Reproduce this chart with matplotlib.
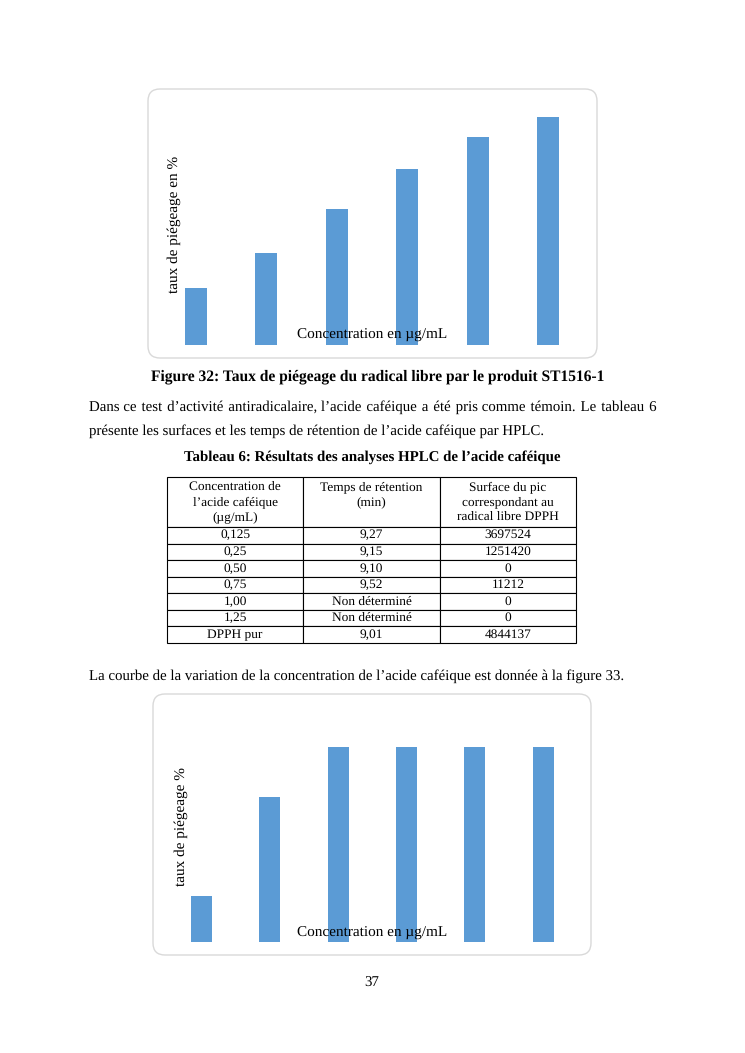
import matplotlib
matplotlib.use("Agg")
import matplotlib.pyplot as plt
from matplotlib.patches import FancyBboxPatch

plt.rcParams['font.family'] = ['Liberation Serif', 'DejaVu Serif']
plt.rcParams['text.hinting'] = 'no_hinting'

W, H = 745, 1053
BLUE = '#5B9BD5'

# Figure 32 : taux de piégeage, produit ST1516-1 (%)
conc_labels = ['0,125', '0,25', '0,50', '0,75', '1,00', '1,25']
taux_st1516 = [20.0, 32.3, 47.7, 61.8, 73.0, 80.0]

# Figure 33 : taux de piégeage, acide caféique (%)
taux_cafeique = [23.67, 74.17, 100.0, 99.77, 100.0, 100.0]

# Tableau 6
table_header = ["Concentration de\nl\u2019acide caféique\n(\u00b5g/mL)",
                "Temps de rétention\n(min)\n",
                "Surface du pic\ncorrespondant au\nradical libre DPPH"]
table_conc = ['0,125', '0,25', '0,50', '0,75', '1,00', '1,25', 'DPPH pur']
table_temps = ['9,27', '9,15', '9,10', '9,52', 'Non déterminé', 'Non déterminé', '9,01']
table_surface = ['3697524', '1251420', '0', '11212', '0', '0', '4844137']

fig = plt.figure(figsize=(W / 100, H / 100), dpi=100)
page = fig.add_axes([0, 0, 1, 1])
page.set_xlim(0, W)
page.set_ylim(H, 0)
page.axis('off')


def px_axes(left, top, right, bottom):
    return fig.add_axes([left / W, 1 - bottom / H, (right - left) / W, (bottom - top) / H])


def chart_box(x0, y0, x1, y1):
    page.add_patch(FancyBboxPatch((x0, y0), x1 - x0, y1 - y0,
                                  boxstyle='round,pad=0,rounding_size=12',
                                  fc='white', ec='#d9d9d9', lw=1.0))


def bar_chart(values, left, right, bottom, ymax, px_per_unit, ylabel, ylab_pos, xlab_y):
    top = bottom - ymax * px_per_unit
    ax = px_axes(left, top, right, bottom)
    ax.patch.set_visible(False)
    ax.bar(range(len(values)), values, width=0.31, color=BLUE)
    ax.set_xlim(-0.5, len(values) - 0.5)
    ax.set_ylim(0, ymax)
    ax.set_xticks([])
    ax.set_yticks([])
    for s in ax.spines.values():
        s.set_visible(False)
    ax.set_xlabel('Concentration en \u00b5g/mL', fontsize=11)
    ax.xaxis.label.set_va('center')
    ax.xaxis.set_label_coords(0.5, (bottom - xlab_y) / (bottom - top))
    ax.set_ylabel(ylabel, fontsize=11)
    ax.yaxis.label.set_va('center')
    ax.yaxis.set_label_coords((ylab_pos[0] - left) / (right - left),
                              (bottom - ylab_pos[1]) / (bottom - top))
    return ax


def justified_line(y, text, x0, x1, **kw):
    # one Text, widened by spreading hair spaces over the word gaps
    renderer = fig.canvas.get_renderer()
    t = page.text(x0, y, text, ha='left', va='baseline', **kw)
    width = t.get_window_extent(renderer).width
    t.set_text('a' + '\u200a' * 10 + 'a')
    sp = t.get_window_extent(renderer).width
    t.set_text('aa')
    sp = (sp - t.get_window_extent(renderer).width) / 10
    words = text.split(' ')
    ngaps = len(words) - 1
    extra = max(0, round((x1 - x0 - width) / sp)) if sp > 0 else 0
    out = words[0]
    for i, w in enumerate(words[1:]):
        n = (extra * (i + 1)) // ngaps - (extra * i) // ngaps
        out += ' ' + '\u200a' * n + w
    t.set_text(out)
    return t


BODY = 10.75

# Figure 32
chart_box(148, 89, 597, 358)
bar_chart(taux_st1516, 160.8, 583.2, 345, 90, 2.85,
          'taux de piégeage en %', (174, 224), 335)
page.text(378, 380, 'Figure 32: Taux de piégeage du radical libre par le produit ST1516-1',
          ha='center', va='baseline', fontsize=11.2, fontweight='bold')

justified_line(411, 'Dans ce test d\u2019activité antiradicalaire, l\u2019acide caféique a été pris comme témoin. Le tableau 6',
               89, 656, fontsize=BODY)
page.text(89, 435, 'présente les surfaces et les temps de rétention de l\u2019acide caféique par HPLC.',
          ha='left', va='baseline', fontsize=BODY)
page.text(372, 461, 'Tableau 6: Résultats des analyses HPLC de l\u2019acide caféique',
          ha='center', va='baseline', fontsize=BODY, fontweight='bold')

# Tableau 6
tab_ax = px_axes(167, 477, 576, 643)
tab_ax.axis('off')
rows = [list(r) for r in zip(table_conc, table_temps, table_surface)]
tab = tab_ax.table(cellText=rows, colLabels=table_header, cellLoc='center',
                   bbox=[0, 0, 1, 1])
tab.auto_set_font_size(False)
tab.set_fontsize(9.6)
for (r, c), cell in tab.get_celld().items():
    cell.set_height(50 if r == 0 else 16.6)
    cell.set_width(1 / 3)
    cell.set_linewidth(0.8)
    if r == 0:
        cell.get_text().set_linespacing(1.35)

page.text(89, 680, 'La courbe de la variation de la concentration de l\u2019acide caféique est donnée à la figure 33.',
          ha='left', va='baseline', fontsize=10.7)

# Figure 33
chart_box(153, 694, 591, 955)
bar_chart(taux_cafeique, 167.3, 577.3, 942, 120, 1.95,
          'taux de piégeage %', (181, 827), 933)

page.text(372, 987, '37', ha='center', va='baseline', fontsize=BODY)

fig.savefig('out.png', dpi=100)
